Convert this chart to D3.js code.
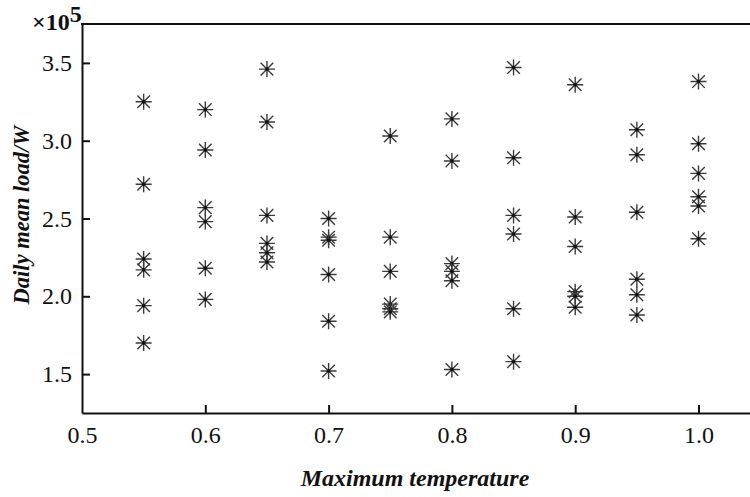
<!DOCTYPE html>
<html>
<head>
<meta charset="utf-8">
<script src="https://cdn.jsdelivr.net/npm/d3@7/dist/d3.min.js"></script>
<style>
  html, body { margin: 0; padding: 0; background: #fff; }
  svg { display: block; }
  svg text { font-family: "Liberation Serif", "Times New Roman", serif; fill: #111; }
</style>
</head>
<body>
<svg id="chart" width="750" height="497"></svg>
<script>
// Maximum temperature (normalised) for each group of days
const temps = [0.55, 0.60, 0.65, 0.70, 0.75, 0.80, 0.85, 0.90, 0.95, 1.00];

// Daily mean load (×10^5 W) observed at each temperature
const load055 = [3.25, 2.72, 2.24, 2.17, 1.94, 1.70];
const load060 = [3.20, 2.94, 2.57, 2.48, 2.18, 1.98];
const load065 = [3.46, 3.12, 2.52, 2.34, 2.28, 2.22];
const load070 = [2.50, 2.38, 2.36, 2.14, 1.84, 1.52];
const load075 = [3.03, 2.38, 2.16, 1.95, 1.92, 1.90];
const load080 = [3.14, 2.87, 2.21, 2.16, 2.10, 1.53];
const load085 = [3.47, 2.89, 2.52, 2.40, 1.92, 1.58];
const load090 = [3.36, 2.51, 2.32, 2.03, 2.00, 1.93];
const load095 = [3.07, 2.91, 2.54, 2.11, 2.01, 1.88];
const load100 = [3.38, 2.98, 2.79, 2.64, 2.58, 2.37];

const loads = [load055, load060, load065, load070, load075,
               load080, load085, load090, load095, load100];

const xTicks = [0.5, 0.6, 0.7, 0.8, 0.9, 1.0];
const yTicks = [1.5, 2.0, 2.5, 3.0, 3.5];

const points = [];
temps.forEach((t, i) => loads[i].forEach(v => points.push({ t, v })));

const FONT = "'Liberation Serif', 'Times New Roman', serif";
const svg = d3.select("#chart");
const plotL = 82, plotT = 24, plotR = 750, plotB = 413;

const x = d3.scaleLinear().domain([0.5, 0.5 + (plotR - plotL) / 1233]).range([plotL, plotR]);
const y = d3.scaleLinear().domain([1.25, 3.75]).range([plotB, plotT]);

// axes with inward ticks
const xAxis = d3.axisBottom(x).tickValues(xTicks).tickFormat(d3.format(".1f"))
  .tickSizeInner(-8).tickSizeOuter(0).tickPadding(13);
const yAxis = d3.axisLeft(y).tickValues(yTicks).tickFormat(d3.format(".1f"))
  .tickSizeInner(-8).tickSizeOuter(0).tickPadding(10);

const gx = svg.append("g").attr("transform", `translate(0,${plotB})`).call(xAxis);
const gy = svg.append("g").attr("transform", `translate(${plotL},0)`).call(yAxis);

[gx, gy].forEach(g => {
  g.attr("font-family", FONT).attr("font-size", 24);
  g.select(".domain").attr("stroke", "#111").attr("stroke-width", 2);
  g.selectAll(".tick line").attr("stroke", "#111").attr("stroke-width", 2);
  g.selectAll(".tick text").style("font-family", FONT)
    .style("font-size", "24px").attr("fill", "#222");
});
// keep the 0.5 tick mark off the corner
gx.selectAll(".tick").filter(d => d === 0.5).select("line").remove();

// top frame line
svg.append("line")
  .attr("x1", plotL - 1).attr("x2", plotR).attr("y1", plotT).attr("y2", plotT)
  .attr("stroke", "#111").attr("stroke-width", 2);

// asterisk markers
const r = 8, dg = 6.3;
const star = `M${-r},0L${r},0M0,${-r}L0,${r}M${-dg},${-dg}L${dg},${dg}M${-dg},${dg}L${dg},${-dg}`;
const marks = svg.append("g");
points.forEach(p => {
  const g = marks.append("g").attr("transform", `translate(${x(p.t)},${y(p.v)})`);
  g.append("path").attr("d", star).attr("stroke", "#3a3a3a").attr("stroke-width", 1.4).attr("fill", "none");
  g.append("circle").attr("r", 1.7).attr("fill", "#111");
});

// exponent label
const ex = svg.append("text").attr("x", 32).attr("y", 30)
  .style("font-family", FONT).style("font-size", "24px").style("font-weight", "bold");
ex.append("tspan").text("×10");
ex.append("tspan").attr("dy", -8).text("5");

// axis titles
svg.append("text").attr("x", 415).attr("y", 486).attr("text-anchor", "middle")
  .style("font-family", FONT).style("font-size", "24px").style("font-weight", "bold").style("font-style", "italic")
  .text("Maximum temperature");

svg.append("text").attr("transform", "translate(29,215) rotate(-90)").attr("text-anchor", "middle")
  .style("font-family", FONT).style("font-size", "22.5px").style("font-weight", "bold").style("font-style", "italic")
  .text("Daily mean load/W");
</script>
</body>
</html>
